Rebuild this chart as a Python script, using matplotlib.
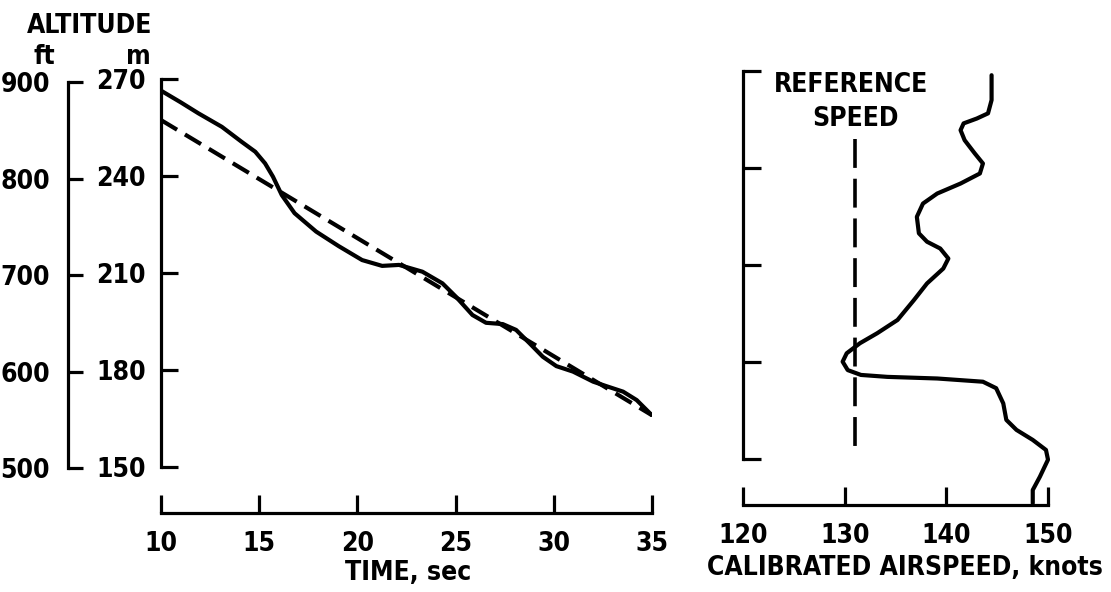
import matplotlib
matplotlib.use("Agg")
import matplotlib.pyplot as plt
from matplotlib import font_manager

W, H = 1111, 592

# altitude history (solid) and reference glide path (dashed)
time_s = [10, 11.0, 11.9, 13.1, 14.1, 14.8, 15.3, 15.7, 16.15, 16.8, 17.9,
          19.05, 20.24, 21.26, 22.12, 23.31, 24.33, 25.01, 25.86, 26.55, 27.4,
          28.08, 28.76, 29.44, 30.13, 30.98, 32.0, 32.68, 33.53, 34.22, 34.98]
altitude_m = [266.4, 262.8, 259.4, 255.2, 250.6, 247.5, 243.9, 239.8, 234.1,
              228.5, 222.8, 218.3, 214.0, 212.2, 212.5, 210.4, 206.8, 202.7,
              197.0, 194.6, 194.2, 192.4, 188.3, 184.1, 181.2, 179.5, 176.4,
              175.0, 173.3, 170.7, 166.1]
ref_time_s = [10, 35]
ref_altitude_m = [257.3, 166.0]

# airspeed vs altitude
airspeed_kt = [144.45, 144.45, 144.1, 143.0, 141.7, 141.4, 141.8, 142.8, 143.6,
               143.3, 141.4, 139.1, 137.7, 137.1, 137.3, 138.1, 139.4, 140.2,
               139.7, 138.1, 136.8, 135.2, 133.2, 131.5, 130.2, 129.8, 130.3,
               131.6, 134.2, 139.1, 143.6, 144.9, 145.6, 145.9, 146.9, 148.5,
               149.8, 150.0, 149.2, 148.5, 148.5]
airspeed_alt_m = [268.7, 261.0, 256.9, 255.3, 253.8, 251.7, 248.6, 244.5, 241.4,
                  238.3, 235.2, 232.1, 229.0, 224.9, 219.8, 217.2, 215.1, 212.0,
                  208.9, 204.3, 199.1, 193.0, 188.9, 185.8, 182.7, 180.1, 177.5,
                  176.0, 175.4, 174.9, 173.9, 171.9, 167.2, 162.1, 159.0, 155.9,
                  152.8, 149.8, 144.5, 140.4, 136.3]
ref_speed_kt = 131
ref_speed_alt_m = [249, 151.6]

m_ticks = [150, 180, 210, 240, 270]
ft_ticks = [500, 600, 700, 800, 900]
time_ticks = [10, 15, 20, 25, 30, 35]
speed_ticks = [120, 130, 140, 150]

condensed = [f for f in font_manager.fontManager.ttflist
             if f.name == "DejaVu Sans" and f.stretch == "condensed"]
if condensed:
    plt.rcParams["font.family"] = "DejaVu Sans"
    plt.rcParams["font.stretch"] = "condensed"
else:
    plt.rcParams["font.family"] = "Liberation Sans"
plt.rcParams["font.weight"] = "bold"
FS = 19
LW_AX = 2.3


def box(x0, y0, x1, y1):
    return [x0 / W, 1 - y1 / H, (x1 - x0) / W, (y1 - y0) / H]


def px(x, y):
    return x / W, 1 - y / H


def style_axes(a, bottom=True):
    for s in ["top", "right"]:
        a.spines[s].set_visible(False)
    a.spines["left"].set_linewidth(LW_AX)
    a.spines["bottom"].set_linewidth(LW_AX)
    if not bottom:
        a.spines["bottom"].set_visible(False)
    a.patch.set_visible(False)


fig = plt.figure(figsize=(W / 100, H / 100), dpi=100)

# left: altitude vs time
ax = fig.add_axes(box(161, 79, 652, 467))
ax.plot(time_s, altitude_m, color="black", lw=3.0, solid_capstyle="round",
        solid_joinstyle="round")
ax.plot(ref_time_s, ref_altitude_m, color="black", lw=3.0, dashes=(4.5, 2.2))
ax.set_xlim(10, 35)
ax.set_ylim(150, 270)
style_axes(ax)
ax.spines["left"].set_bounds(150, 270)
ax.spines["bottom"].set_position(("outward", 33))
ax.spines["bottom"].set_bounds(10, 35)
ax.set_yticks(m_ticks)
ax.set_xticks(time_ticks)
ax.tick_params(axis="y", direction="in", length=12, width=LW_AX, pad=11,
               labelsize=FS)
ax.tick_params(axis="x", direction="in", length=13, width=LW_AX, pad=13,
               labelsize=FS)

# ft scale
axf = fig.add_axes(box(68, 82, 90, 468))
axf.set_ylim(500, 900)
style_axes(axf, bottom=False)
axf.spines["left"].set_bounds(500, 900)
axf.set_yticks(ft_ticks)
axf.set_xticks([])
axf.tick_params(axis="y", direction="in", length=11, width=LW_AX, pad=13,
                labelsize=FS)

# right: airspeed vs altitude
axr = fig.add_axes(box(743, 71, 1048, 459))
axr.plot(airspeed_kt, airspeed_alt_m, color="black", lw=3.0, clip_on=False,
         solid_capstyle="round", solid_joinstyle="round")
axr.plot([ref_speed_kt, ref_speed_kt], ref_speed_alt_m, color="black", lw=2.6,
         dashes=(8, 3))
axr.set_xlim(120, 150)
axr.set_ylim(150, 270)
style_axes(axr)
axr.spines["left"].set_bounds(150, 270)
axr.spines["bottom"].set_position(("outward", 33))
axr.spines["bottom"].set_bounds(120, 150)
axr.set_yticks(m_ticks)
axr.set_yticklabels([])
axr.set_xticks(speed_ticks)
axr.tick_params(axis="y", direction="in", length=13, width=LW_AX)
axr.tick_params(axis="x", direction="in", length=13, width=LW_AX, pad=13,
                labelsize=FS)

fig.text(*px(90, 26), "ALTITUDE", ha="center", va="center", fontsize=FS)
fig.text(*px(44, 57), "ft", ha="center", va="center", fontsize=FS)
fig.text(*px(138, 57), "m", ha="center", va="center", fontsize=FS)
fig.text(*px(408, 573), "TIME, sec", ha="center", va="center", fontsize=FS)
fig.text(*px(905, 568), "CALIBRATED AIRSPEED, knots", ha="center",
         va="center", fontsize=FS)
fig.text(*px(851, 85), "REFERENCE", ha="center", va="center", fontsize=FS)
fig.text(*px(856, 119), "SPEED", ha="center", va="center", fontsize=FS)

fig.savefig("out.png", dpi=100)
